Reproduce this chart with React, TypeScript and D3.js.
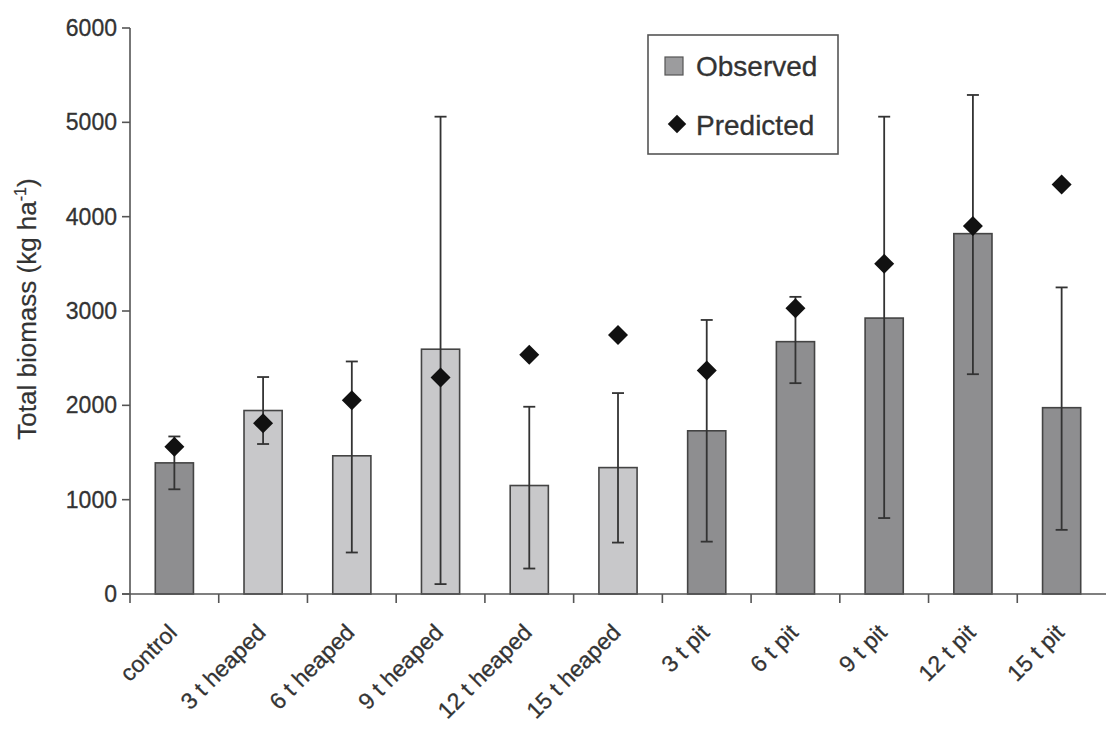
import React from "react";
import * as d3 from "d3";

const categories = ["control", "3 t heaped", "6 t heaped", "9 t heaped", "12 t heaped", "15 t heaped", "3 t pit", "6 t pit", "9 t pit", "12 t pit", "15 t pit"];
const groups = ["control", "heaped", "heaped", "heaped", "heaped", "heaped", "pit", "pit", "pit", "pit", "pit"];
const observed = [1390, 1945, 1465, 2595, 1150, 1340, 1730, 2675, 2925, 3820, 1975];
const errLow = [1110, 1590, 440, 105, 270, 545, 555, 2235, 805, 2330, 680];
const errHigh = [1670, 2300, 2465, 5060, 1985, 2130, 2905, 3150, 5060, 5290, 3250];
const predicted = [1560, 1810, 2055, 2295, 2535, 2745, 2370, 3030, 3500, 3900, 4340];
const yTicks = [0, 1000, 2000, 3000, 4000, 5000, 6000];
const legendLabels = ["Observed", "Predicted"];

const W = 1107;
const H = 735;
const FONT = "'Liberation Sans', Arial, Helvetica, sans-serif";
const TEXT = "#333";

export default function App() {
  const x = d3.scaleBand<string>().domain(categories).range([130, 1106]).padding(0);
  const y = d3.scaleLinear().domain([0, 6000]).range([594, 28]);
  const step = x.step();
  const barW = step * 0.43;
  const diamond = d3.symbol().type(d3.symbolSquare).size(200)();
  const diamondLegend = d3.symbol().type(d3.symbolSquare).size(170)();
  const fill = (g: string) => (g === "heaped" ? "#c8c8ca" : "#8e8e90");
  const x0 = 130;
  const yBase = y(0);

  return (
    <svg width={W} height={H} style={{ position: "absolute", left: 0, top: 0, background: "#fff" }} fontFamily={FONT}>
      <rect width={W} height={H} fill="#fff" />
      {categories.map((c, i) => {
        const cx = (x(c) as number) + step / 2;
        return (
          <rect key={"b" + c} x={cx - barW / 2} y={y(observed[i])} width={barW} height={yBase - y(observed[i])}
            fill={fill(groups[i])} stroke="#444" strokeWidth={1.6} />
        );
      })}
      {categories.map((c, i) => {
        const cx = (x(c) as number) + step / 2;
        return (
          <g key={"e" + c} stroke="#333" strokeWidth={1.8}>
            <line x1={cx} x2={cx} y1={y(errLow[i])} y2={y(errHigh[i])} />
            <line x1={cx - 6} x2={cx + 6} y1={y(errLow[i])} y2={y(errLow[i])} />
            <line x1={cx - 6} x2={cx + 6} y1={y(errHigh[i])} y2={y(errHigh[i])} />
          </g>
        );
      })}
      {categories.map((c, i) => {
        const cx = (x(c) as number) + step / 2;
        return (
          <path key={"p" + c} d={diamond as string} transform={`translate(${cx},${y(predicted[i])}) rotate(45)`} fill="#111" />
        );
      })}
      <g stroke="#555" strokeWidth={1.6}>
        <line x1={x0} x2={x0} y1={y(6000)} y2={yBase} />
        <line x1={x0 - 8} x2={1106} y1={yBase} y2={yBase} />
        {yTicks.map((t) => (
          <line key={"yt" + t} x1={x0 - 8} x2={x0} y1={y(t)} y2={y(t)} />
        ))}
        {categories.map((c) => (
          <line key={"xt" + c} x1={x(c) as number} x2={x(c) as number} y1={yBase} y2={yBase + 9} />
        ))}
      </g>
      {yTicks.map((t) => (
        <text key={"yl" + t} x={x0 - 13} y={y(t)} dy="0.35em" textAnchor="end" fontSize={23} fill={TEXT} stroke={TEXT} strokeWidth={0.3}>{t}</text>
      ))}
      {categories.map((c) => {
        const cx = (x(c) as number) + step / 2;
        return (
          <text key={"xl" + c} transform={`translate(${cx + 4},${yBase + 40}) rotate(-45)`} textAnchor="end" fontSize={23} fill={TEXT} stroke={TEXT} strokeWidth={0.3}>{c}</text>
        );
      })}
      <text transform={`translate(36,309) rotate(-90)`} textAnchor="middle" fontSize={26} fill={TEXT} stroke={TEXT} strokeWidth={0.2}>
        Total biomass (kg ha<tspan dy="-10" fontSize={16}>-1</tspan><tspan dy="10">)</tspan>
      </text>
      <g>
        <rect x={648} y={35} width={190} height={119} fill="#fff" stroke="#555" strokeWidth={1.6} />
        <rect x={665} y={57} width={18} height={18} fill="#9c9c9e" stroke="#555" strokeWidth={1.2} />
        <text x={696} y={76} fontSize={28} fill={TEXT} stroke={TEXT} strokeWidth={0.3}>{legendLabels[0]}</text>
        <path d={diamondLegend as string} transform="translate(677,124) rotate(45)" fill="#111" />
        <text x={696} y={135} fontSize={28} fill={TEXT} stroke={TEXT} strokeWidth={0.3}>{legendLabels[1]}</text>
      </g>
    </svg>
  );
}
